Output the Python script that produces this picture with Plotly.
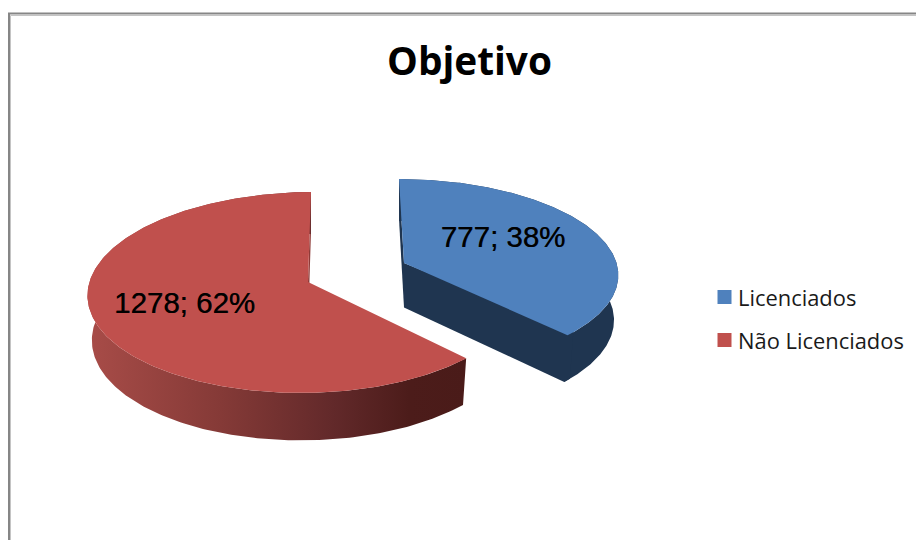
import numpy as np
import plotly.graph_objects as go

# --- data ---
categories = ["Licenciados", "Não Licenciados"]
values = [777, 1278]
title_text = "Objetivo"

# --- styling / geometry (pixel-mapped axes) ---
TOP_COLORS = ["#4F81BD", "#C0504D"]
total = sum(values)
split = 2 * np.pi * values[0] / total
spans = [(0.0, split), (split, 2 * np.pi)]
APEX = [(404, 263), (308, 282)]
U_RIGHT = [212.5, 214.5]
U_LEFT = [212.5, 219]
U_Y = [0, -1.5]
V = [(-5.5, -92.7), (3.3, -99.4)]
P = 0.104
DEPTH = 44.5
SHRINK = 0.98


def project(i, theta, lower=False):
    theta = np.asarray(theta, dtype=float)
    w = 1 + P * np.cos(theta)
    s = np.sin(theta)
    ux = np.where(s >= 0, U_RIGHT[i], U_LEFT[i])
    dx = (ux * s + V[i][0] * np.cos(theta)) / w
    dy = (U_Y[i] * s + V[i][1] * np.cos(theta)) / w
    if lower:
        return APEX[i][0] + SHRINK * dx, APEX[i][1] + SHRINK * dy + DEPTH / w
    return APEX[i][0] + dx, APEX[i][1] + dy


def poly(xs, ys, color=None, gradient=None):
    kw = dict(fillgradient=gradient) if gradient else dict(fillcolor=color)
    return go.Scatter(x=xs, y=ys, mode="lines", fill="toself", line=dict(width=0),
                      hoverinfo="skip", showlegend=False, **kw)


def outer_wall(i):
    th = np.linspace(*spans[i], 240)
    x1, y1 = project(i, th)
    x2, y2 = project(i, th[::-1], True)
    return list(x1) + list(x2), list(y1) + list(y2)


def cut_wall(i, angle, overlap=0.0):
    x1, y1 = project(i, angle - overlap)
    x2, y2 = project(i, angle, True)
    x3, y3 = project(i, angle - overlap, True)
    ax, ay = APEX[i]
    return ([float(x1), ax, ax, float(x2), float(x3)],
            [float(y1), ay, ay + DEPTH, float(y2), float(y3)])


def top_face(i):
    th = np.linspace(*spans[i], 240)
    x, y = project(i, th)
    ax, ay = APEX[i]
    return [ax] + list(x) + [ax], [ay] + list(y) + [ay]


fig = go.Figure()

# blue walls
BLUE_WALL = "#1F3550"
fig.add_trace(poly(*cut_wall(0, 0.0), color=BLUE_WALL))
fig.add_trace(poly(*outer_wall(0), color=BLUE_WALL))
fig.add_trace(poly(*cut_wall(0, split, overlap=0.04), color=BLUE_WALL))

# red walls
fig.add_trace(poly(*cut_wall(1, 2 * np.pi), color="#8E3B38"))
fig.add_trace(poly(*outer_wall(1), gradient=dict(
    type="horizontal", start=88, stop=466,
    colorscale=[[0, "#A84C48"], [0.35, "#853A37"], [0.65, "#62292A"], [0.85, "#4C1C1A"], [1, "#4A1B19"]])))

# top faces
for i in range(2):
    fig.add_trace(poly(*top_face(i), color=TOP_COLORS[i]))

# data labels
share = [round(100 * v / total) for v in values]
labels = [f"{v}; {p}%" for v, p in zip(values, share)]
fig.add_trace(go.Scatter(x=[503, 184.5], y=[240, 306], mode="text", text=labels,
                         textposition="middle center", hoverinfo="skip", showlegend=False,
                         textfont=dict(family="Liberation Sans", size=29.5, color="#000000",
                                       shadow="0.5px 0 0 rgba(0,0,0,0.75)")))

# legend drawn as labelled markers
for i, name in enumerate(categories):
    fig.add_trace(go.Scatter(x=[724.5], y=[297 + 43 * i], mode="markers", showlegend=False,
                             name=name, hoverinfo="name",
                             marker=dict(symbol="square", size=14, color=TOP_COLORS[i])))
    fig.add_annotation(x=735.5, y=297 + 43 * i, text=name, showarrow=False, xanchor="left",
                       font=dict(family="Open Sans", size=21.9, color="#1a1a1a"))

fig.add_annotation(x=469.5, y=60, text=f"<b>{title_text}</b>", showarrow=False,
                   font=dict(family="Open Sans", size=38.8, color="#000000"))

# chart frame
fig.add_shape(type="path", path="M 10.5 540 L 10.5 15.5 L 916 15.5", line=dict(color="#C4C4C4", width=1), layer="below")
fig.add_shape(type="path", path="M 9 540 L 9 13.5 L 916 13.5", line=dict(color="#868686", width=2), layer="below")

fig.update_layout(
    width=916, height=540, margin=dict(l=0, r=0, t=0, b=0),
    paper_bgcolor="white", plot_bgcolor="white", showlegend=False,
    xaxis=dict(range=[0, 916], visible=False, fixedrange=True),
    yaxis=dict(range=[540, 0], visible=False, fixedrange=True),
)
fig.write_html("out.html", config={"displayModeBar": False},
               post_script="document.body.style.margin='0';")
